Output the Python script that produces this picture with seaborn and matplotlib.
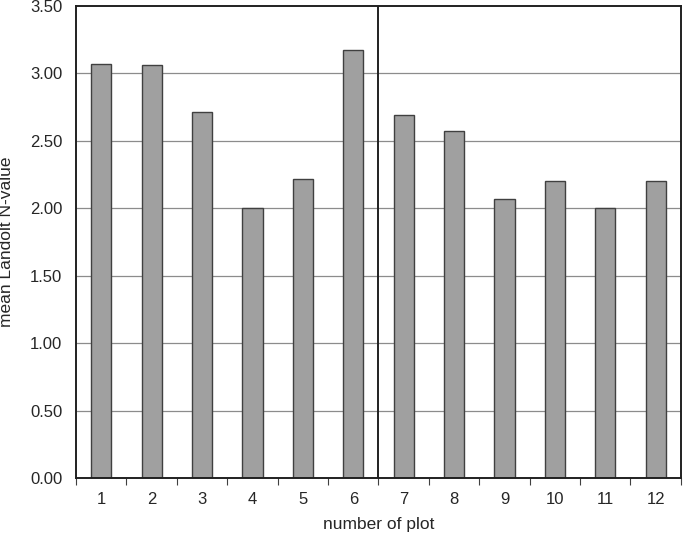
import matplotlib
matplotlib.use("Agg")
import matplotlib.pyplot as plt
import numpy as np
import pandas as pd
import seaborn as sns

plots = ["1", "2", "3", "4", "5", "6", "7", "8", "9", "10", "11", "12"]
landolt_n = [3.07, 3.06, 2.71, 2.00, 2.22, 3.17, 2.69, 2.57, 2.07, 2.20, 2.00, 2.20]
y_ticks = [0.0, 0.5, 1.0, 1.5, 2.0, 2.5, 3.0, 3.5]

sns.set_theme(style="white")
plt.rcParams["font.family"] = ["Liberation Sans", "DejaVu Sans"]

df = pd.DataFrame({"plot": plots, "value": landolt_n})

fig = plt.figure(figsize=(6.85, 5.38), dpi=100)
ax = fig.add_axes([0.111, 0.1115, 0.883, 0.8775])

# horizontal gridlines behind the bars
for y in y_ticks[1:-1]:
    ax.axhline(y, color="#8c8c8c", linewidth=0.9, zorder=0)

sns.barplot(data=df, x="plot", y="value", order=plots, color="#a0a0a0",
            width=0.4, edgecolor="#404040", linewidth=1.0, saturation=1, ax=ax, zorder=2)

# divider between the two groups of plots
ax.axvline(5.5, color="#202020", linewidth=1.4, zorder=3)

ax.set_xlim(-0.5, len(plots) - 0.5)
ax.set_ylim(0, 3.5)
ax.set_yticks(y_ticks)
ax.set_yticklabels([f"{v:.2f}" for v in y_ticks], fontsize=12)
ax.set_xticks(range(len(plots)))
ax.set_xticklabels(plots, fontsize=12)
ax.set_xticks(np.arange(-0.5, len(plots), 1.0), minor=True)
ax.tick_params(axis="x", which="major", length=0, pad=10)
ax.tick_params(axis="x", which="minor", length=5, width=0.8, color="#404040", direction="out", bottom=True)
ax.tick_params(axis="y", which="major", length=0, pad=10)

ax.set_xlabel("number of plot", fontsize=12.5, labelpad=7)
ax.set_ylabel("mean Landolt N-value", fontsize=12.5, labelpad=11)

for spine in ax.spines.values():
    spine.set_visible(True)
    spine.set_color("#202020")
    spine.set_linewidth(1.4)

fig.savefig("out.png", dpi=100)
